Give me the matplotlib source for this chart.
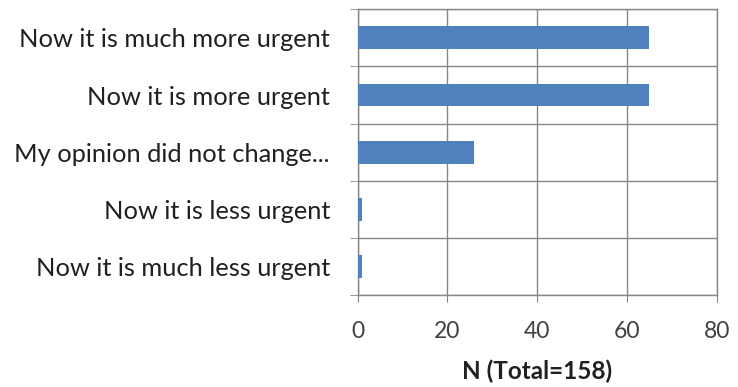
import numpy as np
import matplotlib.pyplot as plt
from matplotlib.ticker import FixedLocator

categories = [
    "Now it is much more urgent",
    "Now it is more urgent",
    "My opinion did not change...",
    "Now it is less urgent",
    "Now it is much less urgent",
]
counts = [65, 65, 26, 1, 1]
xticks = [0, 20, 40, 60, 80]

plt.rcParams['font.family'] = ['Lato', 'DejaVu Sans']

fig = plt.figure(figsize=(7.38, 3.87), dpi=100)
ax = fig.add_axes([0.4847, 0.2377, 0.4865, 0.7383])

y = np.arange(len(categories))[::-1]
ax.barh(y, counts, height=0.4, color='#4F81BD', zorder=3)

ax.set_xlim(0, 80)
ax.set_ylim(-0.5, len(categories) - 0.5)
ax.set_xticks(xticks)
ax.set_xticklabels([str(t) for t in xticks], fontsize=16.5, color='#404040')

# labels sit at the bar centres, tick marks and grid at the boundaries
ax.set_yticks(y)
ax.set_yticklabels(categories, fontsize=18.3, color='#202020')
ax.tick_params(axis='y', which='major', length=0, pad=20)
ax.yaxis.set_minor_locator(FixedLocator(np.arange(-0.5, len(categories), 1.0)))
ax.tick_params(axis='y', which='minor', length=6, direction='out', color='#868686')
ax.tick_params(axis='x', length=5, direction='out', color='#868686', pad=14)

ax.grid(axis='x', which='major', color='#868686', linewidth=1.0, zorder=0)
ax.grid(axis='y', which='minor', color='#868686', linewidth=1.0, zorder=0)

for s in ax.spines.values():
    s.set_color('#868686')
    s.set_linewidth(1.0)

ax.set_xlabel("N (Total=158)", fontsize=17.5, fontweight='bold', color='#202020', labelpad=12)

fig.savefig("out.png", dpi=100)
